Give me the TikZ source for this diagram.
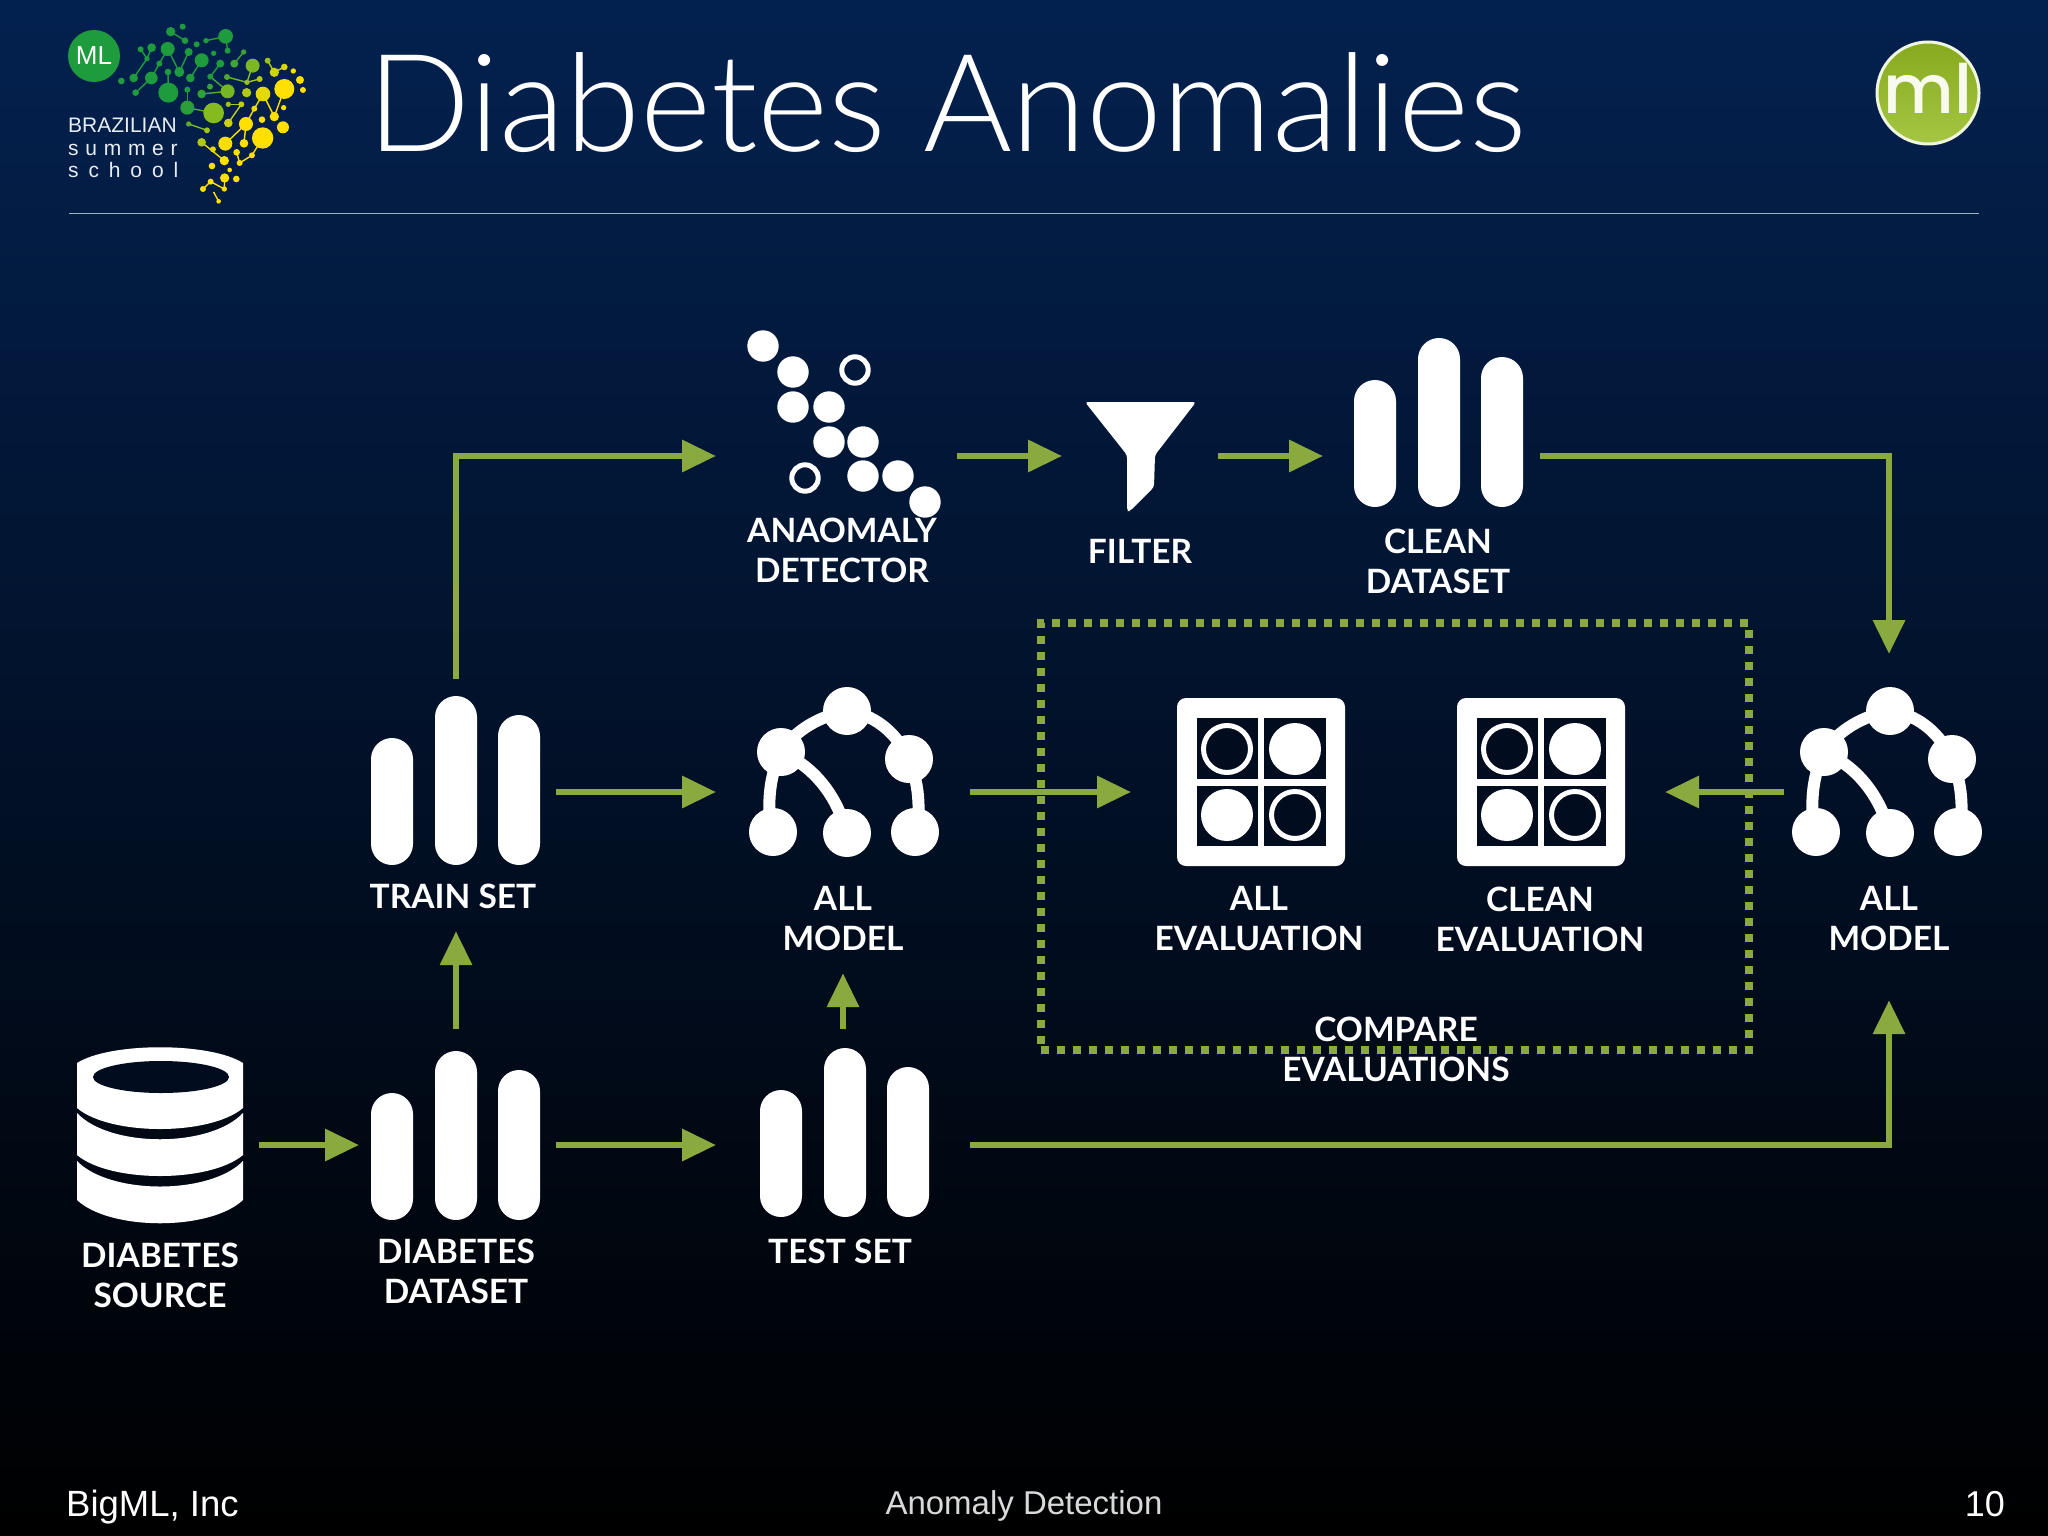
\documentclass[tikz,border=0pt]{standalone}
\usepackage{fontspec}
\usetikzlibrary{arrows.meta}
\setmainfont{Liberation Sans}
\newfontfamily\labelfont{Lato}
\newfontfamily\titlefont{Lato Light}
\newfontfamily\logofont{Poppins Medium}

\definecolor{bgtop}{HTML}{03214F}
\definecolor{flowgreen}{HTML}{8AAA3F}
\definecolor{logogreen}{HTML}{1E9B3C}
\definecolor{logoyellow}{HTML}{FFE000}
\definecolor{mlgreen}{HTML}{96BC22}
\definecolor{rulecol}{HTML}{C4D2E4}

\tikzset{
  iconbox/.style={inner sep=0pt, outer sep=0pt},
  iconlabel/.style={text=white, inner sep=0pt, align=center,
    font=\labelfont\bfseries\fontsize{33.5}{40}\selectfont},
  flow/.style={draw=flowgreen, line width=6.5pt,
    -{Triangle[length=34pt,width=31pt]}},
  comparebox/.style={draw=flowgreen, line width=8pt, dash pattern=on 8pt off 8pt,
    inner sep=0pt, outer sep=0pt, minimum width=708pt, minimum height=427pt}
}

% Three bars, left edge and bottom edge
\newcommand{\barsicon}[2]{
  \fill[white, rounded corners=21pt] (#1,#2-127) rectangle ++(42,127);
  \fill[white, rounded corners=21pt] (#1+64,#2-169) rectangle ++(42,169);
  \fill[white, rounded corners=21pt] (#1+127,#2-150) rectangle ++(42,150);
}
% Tree, shifted to the right
\newcommand{\treeicon}[1]{
  \begin{scope}[xshift=#1pt]
    \draw[white, line width=12pt] (781,752) .. controls (795,730) and (820,716) .. (847,711);
    \draw[white, line width=12pt] (847,711) .. controls (872,714) and (895,730) .. (909,759);
    \draw[white, line width=12pt] (781,752) .. controls (770,775) and (767,800) .. (771,832);
    \draw[white, line width=12pt] (781,752) .. controls (810,765) and (835,790) .. (847,833);
    \draw[white, line width=12pt] (909,759) .. controls (917,780) and (921,800) .. (917,832);
    \foreach \cx/\cy in {847/711, 781/752, 909/759, 773/832, 847/833, 915/832}
      \fill[white] (\cx,\cy) circle (24);
  \end{scope}
}
% Evaluation square, shifted to the right
\newcommand{\evalicon}[1]{
  \begin{scope}[xshift=#1pt]
    \fill[white, rounded corners=9pt] (1177,698) rectangle (1345,866);
    \fill[bgtop!38!black] (1197,718) rectangle (1258,779);
    \fill[bgtop!38!black] (1264,718) rectangle (1326,779);
    \fill[bgtop!38!black] (1197,786) rectangle (1258,846);
    \fill[bgtop!38!black] (1264,786) rectangle (1326,846);
    \draw[white, line width=5pt] (1227,749) circle (23.5);
    \fill[white] (1295,749) circle (26);
    \fill[white] (1227,815) circle (26);
    \draw[white, line width=5pt] (1295,815) circle (23.5);
  \end{scope}
}

\begin{document}
\begin{tikzpicture}[x=1pt, y=-1pt]
  % Background and header
  \shade[top color=bgtop, bottom color=black] (0,0) rectangle (2048,1536);
  \useasboundingbox (0,0) rectangle (2048,1536);
  \draw[rulecol!80!bgtop, line width=1pt] (69,213) -- (1979,213);
  \node[anchor=base west, inner sep=0pt, text=white, font=\titlefont\fontsize{136}{150}\selectfont] (title) at (367,151) {Diabetes Anomalies};

  % Brazilian summer school logo
  \begin{scope}[xshift=40pt, x=0.3333pt, y=-0.3333pt]
    \foreach \ax/\ay/\bx/\by in {392/95/435/122, 498/122/557/109, 557/109/563/152, 302/148/321/176,
        321/176/335/143, 321/176/281/234, 383/147/418/216, 418/216/446/156, 358/191/334/234,
        358/191/383/147, 287/278/334/234, 384/216/385/278, 451/234/485/181, 511/230/541/191,
        511/230/563/274, 561/231/621/247, 621/247/659/237, 621/247/638/197, 583/191/611/156,
        683/182/703/217, 703/217/733/201, 442/269/442/323, 485/282/563/274, 442/323/521/339,
        565/313/604/313, 604/313/565/369, 446/372/501/391, 643/326/669/282, 643/326/618/372,
        669/282/703/350, 703/350/733/267, 618/372/612/430, 618/372/556/431, 485/427/553/482,
        590/457/599/489, 599/489/636/466, 636/466/668/414, 553/567/512/545, 512/545/489/567,
        553/567/554/534, 522/578/536/604}{
      \pgfmathsetmacro\mixval{max(0,min(100,((\ax+\bx)/2+0.45*(\ay+\by)-720)/2.3))}
      \draw[logoyellow!\mixval!logogreen, line width=1.4pt] (\ax,\ay) -- (\bx,\by);
    }
    \foreach \cx/\cy/\rad in {392/95/14, 428/80/9, 435/122/10, 470/133/9, 498/122/8, 557/109/22,
        563/152/9, 335/143/13, 302/148/9, 321/176/8, 383/147/21, 446/156/12, 521/160/8, 485/181/21,
        583/191/12, 611/156/8, 638/197/21, 683/182/9, 703/217/14, 733/201/10, 760/213/8, 780/240/12,
        789/270/9, 733/267/30, 541/191/12, 358/191/9, 418/216/15, 451/234/13, 511/230/9, 561/231/9,
        621/247/8, 659/237/9, 384/216/10, 334/234/19, 281/234/13, 244/243/10, 287/278/10, 385/278/30,
        442/269/9, 510/260/9, 485/282/13, 563/274/21, 620/278/14, 669/282/22, 442/323/21, 521/339/31,
        565/313/8, 604/313/9, 643/326/9, 731/323/8, 703/350/14, 666/359/10, 729/382/18, 565/369/13,
        618/372/21, 446/372/8, 501/391/9, 668/414/32, 485/427/13, 519/448/9, 556/431/21, 612/430/13,
        553/482/14, 590/457/10, 599/489/9, 636/466/9, 516/498/10, 569/510/7, 554/534/14, 589/537/10,
        512/545/9, 553/567/8, 489/567/9, 522/578/3, 536/604/7}{
      \pgfmathsetmacro\mixval{max(0,min(100,(\cx+0.9*\cy-720)/2.3))}
      \fill[logoyellow!\mixval!logogreen] (\cx,\cy) circle (\rad);
    }
  \end{scope}
  \fill[logogreen] (94,56) circle (26);
  \node[text=white, inner sep=0pt, font=\fontsize{26}{28}\selectfont] (mlmark) at (94,56) {ML};
  \node[anchor=base west, inner sep=0pt, text=rulecol!40!white, font=\fontsize{21}{24}\selectfont] (brazil) at (68,132) {BRAZILIAN};
  \node[anchor=base west, inner sep=0pt, text=rulecol!40!white, font=\fontsize{21}{24}\selectfont\addfontfeature{LetterSpace=32}] (summer) at (68,156) {summer};
  \node[anchor=base west, inner sep=0pt, text=rulecol!40!white, font=\fontsize{21}{24}\selectfont\addfontfeature{LetterSpace=47}] (school) at (68,178) {school};

  % Round logo in the corner
  \shade[top color=mlgreen!90!black, bottom color=mlgreen!85!white] (1928,93) circle (51);
  \draw[white!85!mlgreen, line width=3pt] (1928,93) circle (51);
  \node[text=white!92!mlgreen, inner sep=0pt, font=\logofont\fontsize{68}{68}\selectfont] (mllogo) at (1928,88) {ml};

  % Frame round the two evaluations
  \node[comparebox] (compare) at (1395,836.5) {};

  % Icons
  \fill[white] (77,1063) .. controls (110,1042) and (210,1042) .. (243,1063) -- (243,1108)
    .. controls (210,1136) and (110,1136) .. (77,1108) -- cycle;
  \fill[bgtop!38!black] (161,1077) ellipse (68 and 16);
  \fill[white] (77,1113) .. controls (110,1148) and (210,1148) .. (243,1113) -- (243,1155)
    .. controls (210,1183) and (110,1183) .. (77,1155) -- cycle;
  \fill[white] (77,1161) .. controls (110,1195) and (210,1195) .. (243,1161) -- (243,1200)
    .. controls (210,1231) and (110,1231) .. (77,1200) -- cycle;
  \barsicon{371}{1220}
  \barsicon{371}{865}
  \barsicon{760}{1217}
  \barsicon{1354}{507}
  \treeicon{0}
  \treeicon{1043}
  \evalicon{0}
  \evalicon{280}
  \fill[white, rounded corners=3pt] (1085,402) -- (1196,402) -- (1155,455) -- (1154,487) -- (1130,511) -- (1127,511) -- (1127,455) -- cycle;
  \foreach \cx/\cy in {763/346, 793/372, 793/407, 829/407, 829/442, 863/442, 863/476, 898/476, 925/502}
    \fill[white] (\cx,\cy) circle (15.7);
  \foreach \cx/\cy in {855/370, 805/478}
    \draw[white, line width=5pt] (\cx,\cy) circle (13.2);

  % Boxes the arrows start from and end at
  \node[iconbox, minimum width=198pt, minimum height=180pt] (source) at (160,1145) {};
  \node[iconbox, minimum width=200pt, minimum height=232pt] (dataset) at (456,1145) {};
  \node[iconbox, minimum width=200pt, minimum height=226pt] (trainset) at (456,792) {};
  \node[iconbox, minimum width=254pt, minimum height=232pt] (testset) at (843,1145) {};
  \node[iconbox, minimum width=254pt, minimum height=200pt] (allmodel) at (843,792) {};
  \node[iconbox, minimum width=210pt, minimum height=276pt] (cleanmodel) at (1889,792) {};
  \node[iconbox, minimum width=260pt, minimum height=180pt] (alleval) at (1261,792) {};
  \node[iconbox, minimum width=246pt, minimum height=180pt] (cleaneval) at (1542,792) {};
  \node[iconbox, minimum width=241pt, minimum height=180pt] (detector) at (836.5,456) {};
  \node[iconbox, minimum width=156pt, minimum height=120pt] (filter) at (1140,456) {};
  \node[iconbox, minimum width=217pt, minimum height=180pt] (cleandata) at (1431.5,456) {};

  % Labels
  \node[iconlabel] (detectorlabel) at (842,550) {ANAOMALY\\DETECTOR};
  \node[iconlabel] (filterlabel) at (1140,551) {FILTER};
  \node[iconlabel] (cleandatalabel) at (1438,561) {CLEAN\\DATASET};
  \node[iconlabel, minimum height=70pt] (trainlabel) at (453,896) {TRAIN SET};
  \node[iconlabel, minimum height=108pt] (allmodellabel) at (843,919) {ALL\\MODEL};
  \node[iconlabel] (allevallabel) at (1259,919) {ALL\\EVALUATION};
  \node[iconlabel] (cleanevallabel) at (1540,919) {CLEAN\\EVALUATION};
  \node[iconlabel, minimum height=162pt] (cleanmodellabel) at (1889,919) {ALL\\MODEL};
  \node[iconlabel] (comparelabel) at (1396,1049) {COMPARE\\EVALUATIONS};
  \node[iconlabel] (sourcelabel) at (160,1275) {DIABETES\\SOURCE};
  \node[iconlabel] (datasetlabel) at (456,1271) {DIABETES\\DATASET};
  \node[iconlabel] (testlabel) at (840,1251) {TEST SET};

  % Arrows
  \draw[flow] (trainset.north) |- (detector.west);
  \draw[flow] (detector.east) -- (filter.west);
  \draw[flow] (filter.east) -- (cleandata.west);
  \draw[flow] (cleandata.east) -| (cleanmodel.north);
  \draw[flow] (trainset.east) -- (allmodel.west);
  \draw[flow] (allmodel.east) -- (alleval.west);
  \draw[flow] (cleanmodel.west) -- (cleaneval.east);
  \draw[flow] (dataset.north) -- (dataset.north |- trainlabel.south);
  \draw[flow] (testset.north) -- (allmodellabel.south);
  \draw[flow, shorten >=-3pt] (source.east) -- (dataset.west);
  \draw[flow] (dataset.east) -- (testset.west);
  \draw[flow] (testset.east) -| (cleanmodellabel.south);

  % Footer
  \node[anchor=base west, inner sep=0pt, text=white, font=\fontsize{36.5}{40}\selectfont] (company) at (66,1516) {BigML, Inc};
  \node[anchor=base, inner sep=0pt, text=white!85!black, font=\fontsize{33}{36}\selectfont] (deck) at (1024,1514) {Anomaly Detection};
  \node[anchor=base east, inner sep=0pt, text=white, font=\fontsize{36}{40}\selectfont] (pagenum) at (2005,1516) {10};
\end{tikzpicture}
\end{document}
